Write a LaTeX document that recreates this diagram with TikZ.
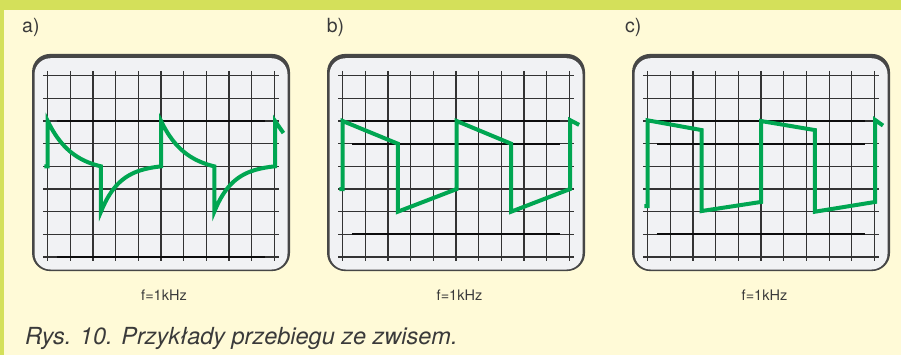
\documentclass[tikz,border=0pt]{standalone}
\usepackage{fontspec}
\setmainfont{TeX Gyre Heros}
\usepackage{tikz}
\usetikzlibrary{calc}

\definecolor{pagebg}{HTML}{FFFAD7}
\definecolor{bandgreen}{HTML}{D4E05A}
\definecolor{screenbg}{HTML}{F1F2F4}
\definecolor{rimgray}{HTML}{464646}
\definecolor{wavegreen}{HTML}{00A651}
\definecolor{txtgray}{HTML}{3A3A3A}

\tikzset{
  rim/.style={fill=rimgray, rounded corners=18pt},
  screenface/.style={fill=screenbg, rounded corners=16pt},
  gridline/.style={black!80, line width=1.1pt},
  boldline/.style={black!95, line width=2.2pt},
  wave/.style={wavegreen, line width=4pt},
  panellabel/.style={font=\fontsize{19.5}{19.5}\selectfont, text=txtgray, anchor=base west, inner sep=0pt},
  freqlabel/.style={font=\fontsize{14.5}{14.5}\selectfont, text=txtgray, anchor=base, inner sep=0pt}
}

% droop of the top and recovery of the bottom (RC coupling)
\pgfmathdeclarefunction{droop}{1}{\pgfmathparse{2+2*(1-exp(-#1/1.1))/(1-exp(-2.35/1.1))}}
\pgfmathdeclarefunction{recover}{1}{\pgfmathparse{6-2*(1-exp(-#1/0.85))/(1-exp(-2.65/0.85))}}

% screen with graticule, #1 = bold rows
\newcommand{\oscscreen}[1]{%
  \fill[rim] (-0.69,-0.96) rectangle (10.69,8.62);
  \fill[screenface] (-0.58,-0.77) rectangle (10.58,8.55);
  \foreach \i in {0,...,10} \draw[gridline] (\i,-0.21) -- (\i,8.16);
  \foreach \j in {0,...,8} \draw[gridline] (-0.19,\j) -- (10.19,\j);
  \foreach \j in {#1} \draw[boldline] (0.4,\j) -- (9.6,\j);
}

\begin{document}
\begin{tikzpicture}[x=1pt, y=-1pt]
  % tlo
  \fill[pagebg] (0,0) rectangle (901,355);
  \fill[bandgreen] (0,0) rectangle (901,10);
  \fill[bandgreen] (0,0) rectangle (4,355);

  % a)
  \node[panellabel] (lbla) at (22,32.3) {a)};
  \begin{scope}[shift={(47.7,75.7)}, scale=22.667]
    \oscscreen{2,8}
    \draw[wave] (-0.15,4) -- (0,4) -- (0,2)
      -- plot[domain=0:2.35, samples=30] (\x,{droop(\x)}) -- (2.35,6)
      -- plot[domain=2.35:5, samples=30] (\x,{recover(\x-2.35)}) -- (5,2)
      -- plot[domain=5:7.35, samples=30] (\x,{droop(\x-5)}) -- (7.35,6)
      -- plot[domain=7.35:10.03, samples=30] (\x,{recover(\x-7.35)})
      -- (10.03,2) -- (10.4,2.53);
  \end{scope}
  \node[freqlabel] (fa) at (164,300) {f=1kHz};

  % b)
  \node[panellabel] (lblb) at (326.7,32.3) {b)};
  \begin{scope}[shift={(342.7,75.7)}, scale=22.667]
    \oscscreen{2,3,7}
    \draw[wave] (-0.15,5) -- (0,5) -- (0,2) -- (2.43,3) -- (2.43,6)
      -- (5.03,5) -- (5.03,2) -- (7.43,3) -- (7.43,6)
      -- (10.03,5) -- (10.03,1.96) -- (10.43,2.17);
  \end{scope}
  \node[freqlabel] (fb) at (459.5,300) {f=1kHz};

  % c)
  \node[panellabel] (lblc) at (625,32.3) {c)};
  \begin{scope}[shift={(647.7,75.7)}, scale=22.667]
    \oscscreen{2,3,7}
    \draw[wave] (-0.15,5.75) -- (0,5.75) -- (0,1.97) -- (2.38,2.4) -- (2.38,5.97)
      -- (5,5.57) -- (5,2) -- (7.38,2.4) -- (7.38,6)
      -- (10.03,5.57) -- (10.03,1.95) -- (10.38,2.2);
  \end{scope}
  \node[freqlabel] (fc) at (764.5,300) {f=1kHz};

  % podpis
  \node[font=\fontsize{23.5}{23.5}\selectfont\itshape, text=txtgray, anchor=base west, inner sep=0pt]
    (caption) at (25,344) {Rys. 10. Przykłady przebiegu ze zwisem.};
\end{tikzpicture}
\end{document}
